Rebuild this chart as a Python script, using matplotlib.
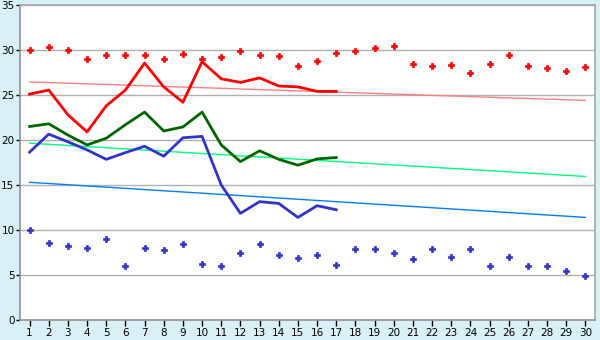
import matplotlib
matplotlib.use("Agg")
import matplotlib.pyplot as plt

# day numbers on the x axis
days = list(range(1, 31))

# scattered points (30 days)
red_points = [30.0, 30.3, 30.0, 29.0, 29.5, 29.5, 29.4, 29.0, 29.6, 29.0,
              29.2, 29.85, 29.4, 29.3, 28.2, 28.75, 29.7, 29.85, 30.2, 30.4,
              28.4, 28.2, 28.3, 27.5, 28.5, 29.4, 28.2, 27.95, 27.7, 28.1]
blue_points = [10.0, 8.6, 8.2, 8.0, 9.0, 6.0, 8.0, 7.75, 8.4, 6.2,
               6.0, 7.4, 8.4, 7.2, 6.85, 7.2, 6.1, 7.85, 7.85, 7.5,
               6.75, 7.85, 7.0, 7.85, 6.0, 7.0, 6.0, 6.0, 5.5, 4.85]

# lines (first 17 days)
red_line = [25.1, 25.55, 22.8, 20.9, 23.8, 25.55, 28.55, 25.9, 24.2, 28.7,
            26.8, 26.4, 26.9, 26.0, 25.9, 25.4, 25.4]
green_line = [21.5, 21.8, 20.55, 19.45, 20.2, 21.7, 23.1, 21.0, 21.45, 23.1,
              19.45, 17.6, 18.8, 17.85, 17.2, 17.9, 18.05]
blue_line = [18.65, 20.65, 19.8, 18.9, 17.85, 18.6, 19.3, 18.2, 20.25, 20.4,
             15.0, 11.85, 13.15, 12.95, 11.4, 12.7, 12.25]

# trend lines, value at day 1 and day 30
trend_days = [1, 30]
red_trend = [26.45, 24.4]
green_trend = [19.65, 15.95]
blue_trend = [15.3, 11.4]

bg = "#d9f0f7"
fig = plt.figure(figsize=(6, 3.4), dpi=100, facecolor=bg)
ax = fig.add_axes([20 / 600, 20 / 340, 575 / 600, 315 / 340])
ax.set_facecolor("white")

ax.plot(trend_days, red_trend, color="#ff8080", lw=1, zorder=2)
ax.plot(trend_days, green_trend, color="#00ff80", lw=1, zorder=2)
ax.plot(trend_days, blue_trend, color="#0080ff", lw=1, zorder=2)

ax.plot(days[:17], red_line, color="#ff0000", lw=2, zorder=3)
ax.plot(days[:17], green_line, color="#006600", lw=2, zorder=3)
ax.plot(days[:17], blue_line, color="#3333cc", lw=2, zorder=3)

ax.plot(days, red_points, ls="none", marker="P", ms=5, color="#ff0000",
        mew=0.5, zorder=4)
ax.plot(days, blue_points, ls="none", marker="P", ms=4.5, color="#3333cc",
        mew=0.5, zorder=4)

ax.set_xlim(0.5, 30.5)
ax.set_ylim(0, 35)
ax.set_xticks(days)
ax.set_yticks(range(0, 36, 5))
ax.yaxis.grid(True, color="#b0b0b0", lw=1)
ax.set_axisbelow(True)

for s in ax.spines.values():
    s.set_color("#a8a8a8")
    s.set_linewidth(1.2)
ax.spines["left"].set_color("#909090")
ax.spines["bottom"].set_color("#909090")

ax.tick_params(axis="x", length=4, width=1, color="black", pad=2,
               labelsize=7.5)
ax.tick_params(axis="y", length=3, width=1, color="black", pad=1,
               labelsize=7.5)

fig.savefig("out.png", dpi=100, facecolor=bg)
